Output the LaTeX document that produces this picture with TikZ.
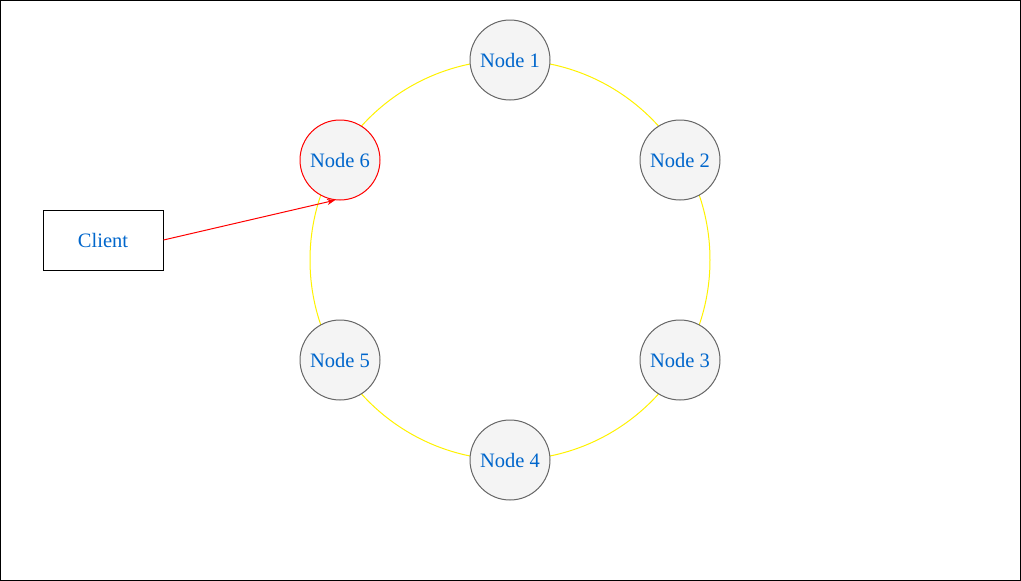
\documentclass[tikz,border=0pt]{standalone}
\usepackage{fontspec}
\setmainfont{Liberation Serif}
\usetikzlibrary{arrows.meta}
\definecolor{teksti}{HTML}{0066CC}
\definecolor{harmaa}{HTML}{F4F4F4}
\definecolor{reuna}{HTML}{666666}
\tikzset{
  solmu/.style={circle,draw=reuna,fill=harmaa,minimum size=80pt,inner sep=0pt,text=teksti,font=\fontsize{20.5}{24}\selectfont},
  asiakas/.style={rectangle,draw=black,minimum width=120pt,minimum height=60pt,inner sep=0pt,text=teksti,font=\fontsize{20.5}{24}\selectfont}
}
\begin{document}
\begin{tikzpicture}[x=1pt,y=-1pt,line width=1pt]
\draw[black] (0.5,0.5) rectangle (1020.5,580.5);
\draw[yellow] (510,260) circle (200);
\node[solmu] (n1) at (510,60) {Node 1};
\node[solmu] (n2) at (680,160) {Node 2};
\node[solmu] (n3) at (680,360) {Node 3};
\node[solmu] (n4) at (510,460) {Node 4};
\node[solmu] (n5) at (340,360) {Node 5};
\node[solmu,draw=red] (n6) at (340,160) {Node 6};
\node[asiakas] (client) at (103,240) {Client};
\draw[red,-{Stealth[length=8pt,width=6pt]}] (client.east) -- (n6.-97);
\end{tikzpicture}
\end{document}
